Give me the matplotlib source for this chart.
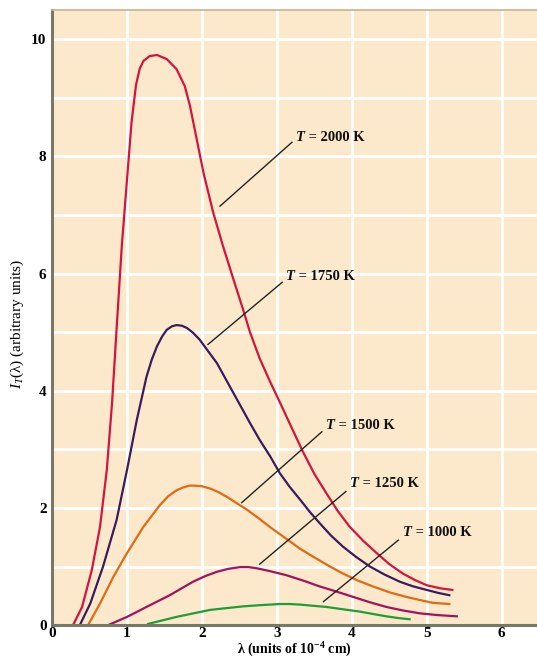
import numpy as np
import matplotlib.pyplot as plt

# curves (lambda in 1e-4 cm, intensity in arbitrary units)
x_2000 = [0.28, 0.40, 0.53, 0.64, 0.73, 0.80, 0.86, 0.93, 1.00, 1.06, 1.12, 1.17, 1.22, 1.30, 1.40,
          1.53, 1.66, 1.77, 1.84, 1.93, 2.02, 2.15, 2.28, 2.42, 2.55, 2.64, 2.77, 2.91, 3.04, 3.20,
          3.35, 3.50, 3.66, 3.81, 3.97, 4.15, 4.33, 4.50, 4.68, 4.84, 5.00, 5.17, 5.34]
y_2000 = [0.0, 0.31, 0.94, 1.68, 2.65, 3.79, 5.04, 6.47, 7.61, 8.58, 9.22, 9.5, 9.63, 9.71, 9.73,
          9.66, 9.49, 9.2, 8.86, 8.29, 7.72, 7.04, 6.47, 5.9, 5.38, 5.0, 4.55, 4.15, 3.8, 3.36,
          2.95, 2.58, 2.25, 1.95, 1.68, 1.44, 1.23, 1.04, 0.88, 0.77, 0.68, 0.63, 0.6]

x_1750 = [0.37, 0.51, 0.68, 0.86, 1.00, 1.13, 1.26, 1.33, 1.40, 1.47, 1.53, 1.60, 1.66, 1.73, 1.80,
          1.88, 1.97, 2.20, 2.42, 2.64, 2.77, 2.91, 3.04, 3.17, 3.31, 3.44, 3.57, 3.72, 3.88, 4.06,
          4.24, 4.44, 4.64, 4.82, 5.00, 5.15, 5.30]
y_1750 = [0.0, 0.37, 1.0, 1.79, 2.65, 3.5, 4.24, 4.53, 4.76, 4.93, 5.04, 5.1, 5.12, 5.11, 5.07,
          4.99, 4.87, 4.47, 3.96, 3.45, 3.16, 2.88, 2.59, 2.36, 2.14, 1.93, 1.74, 1.53, 1.34, 1.16,
          1.0, 0.86, 0.74, 0.66, 0.6, 0.55, 0.51]

x_1500 = [0.48, 0.64, 0.82, 1.00, 1.22, 1.44, 1.55, 1.66, 1.75, 1.83, 1.91, 2.00, 2.11, 2.22, 2.33,
          2.60, 2.77, 2.91, 3.13, 3.30, 3.48, 3.68, 3.88, 4.08, 4.28, 4.50, 4.73, 4.90, 5.08, 5.30]
y_1500 = [0.0, 0.37, 0.83, 1.23, 1.68, 2.05, 2.2, 2.3, 2.35, 2.38, 2.38, 2.37, 2.33, 2.27, 2.19,
          1.97, 1.81, 1.67, 1.47, 1.31, 1.17, 1.02, 0.88, 0.76, 0.66, 0.56, 0.48, 0.43, 0.38, 0.36]

x_1250 = [0.75, 1.00, 1.26, 1.57, 1.88, 2.05, 2.20, 2.35, 2.51, 2.62, 2.73, 2.91, 3.13, 3.35, 3.57,
          3.80, 4.02, 4.24, 4.46, 4.68, 4.91, 5.15, 5.40]
y_1250 = [0.0, 0.14, 0.31, 0.51, 0.74, 0.84, 0.91, 0.96, 0.99, 0.99, 0.97, 0.92, 0.85, 0.76, 0.66,
          0.57, 0.48, 0.39, 0.31, 0.25, 0.2, 0.17, 0.15]

x_1000 = [1.28, 1.66, 2.11, 2.55, 2.77, 2.91, 3.04, 3.17, 3.31, 3.48, 3.66, 3.88, 4.11, 4.28, 4.46, 4.62, 4.77]
y_1000 = [0.02, 0.14, 0.26, 0.32, 0.34, 0.35, 0.36, 0.36, 0.35, 0.33, 0.31, 0.27, 0.23, 0.19, 0.15, 0.12, 0.1]

labels = ['2000', '1750', '1500', '1250', '1000']
colors = ['#d3153e', '#3a1c5c', '#e26a12', '#a3125e', '#1e9e36']
# leader lines (from curve to label) and label positions
lead_x = [(2.24, 3.20), (2.08, 3.07), (2.53, 3.60), (2.77, 3.92), (3.62, 4.62)]
lead_y = [(7.15, 8.24), (4.79, 5.85), (2.09, 3.30), (1.04, 2.28), (0.40, 1.45)]
text_xy = [(3.26, 8.32), (3.12, 5.95), (3.66, 3.40), (3.97, 2.41), (4.68, 1.58)]

curves = [(x_2000, y_2000), (x_1750, y_1750), (x_1500, y_1500), (x_1250, y_1250), (x_1000, y_1000)]

plt.rcParams['font.family'] = ['Liberation Serif', 'DejaVu Serif']
plt.rcParams['mathtext.fontset'] = 'custom'
plt.rcParams['mathtext.rm'] = 'Liberation Serif'
plt.rcParams['mathtext.it'] = 'Liberation Serif:italic'
plt.rcParams['mathtext.bf'] = 'Liberation Serif:bold'

fig = plt.figure(figsize=(5.37, 6.58), dpi=100)
ax = fig.add_axes([0.097, 0.05, 0.903, 0.935])
ax.set_facecolor('#fce9cb')

ax.set_xlim(0, 6.47)
ax.set_ylim(0, 10.5)
ax.set_xticks(np.arange(0, 7, 1))
ax.set_yticks(np.arange(0, 11, 2))
ax.set_yticks(np.arange(0, 11, 1), minor=True)
ax.grid(True, which='both', color='white', lw=2.0)
ax.set_axisbelow(True)
ax.tick_params(which='both', length=0, labelsize=11)
ax.tick_params(axis='x', pad=1.5)
ax.tick_params(axis='y', pad=4)
for lab in ax.get_xticklabels() + ax.get_yticklabels():
    lab.set_fontweight('bold')

ax.spines['right'].set_visible(False)
ax.spines['top'].set_color('#c8b48c')
ax.spines['top'].set_linewidth(1.2)
for s in ['left', 'bottom']:
    ax.spines[s].set_color('#77776a')
    ax.spines[s].set_linewidth(2.2)

for (cx, cy), c in zip(curves, colors):
    ax.plot(cx, cy, color=c, lw=1.6, solid_joinstyle='round')

for lab, lx, ly, (tx, ty) in zip(labels, lead_x, lead_y, text_xy):
    ax.plot(lx, ly, color='#222222', lw=1.0)
    ax.text(tx, ty, 'T', fontsize=10.5, fontweight='bold', fontstyle='italic',
            va='center', ha='left', color='#111111')
    ax.annotate(' = ' + lab + ' K', (tx, ty), xytext=(6.5, 0), textcoords='offset points',
                fontsize=10.5, fontweight='bold', va='center', ha='left', color='#111111')

ax.set_ylabel(r'$I_T$(λ) (arbitrary units)', fontsize=11)
ax.yaxis.set_label_coords(-0.072, 0.49)
ax.yaxis.label.set_va('center')
ax.set_xlabel(r'λ (units of 10$^{\mathbf{-4}}$ cm)', fontsize=10, fontweight='bold')
ax.xaxis.set_label_coords(0.5, -0.041)
ax.xaxis.label.set_va('center')

fig.savefig('out.png', dpi=100, facecolor='white')
